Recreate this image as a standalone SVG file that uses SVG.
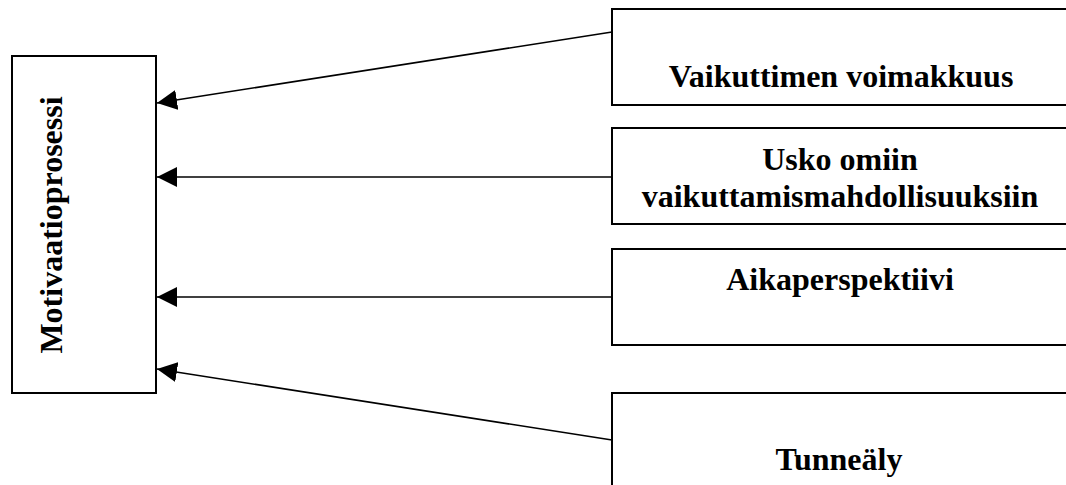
<svg xmlns="http://www.w3.org/2000/svg" width="1066" height="485" viewBox="0 0 1066 485">
  <style>
    .box { fill: #ffffff; stroke: #000000; stroke-width: 2; }
    .lbl { font-family: "Liberation Serif", "Times New Roman", serif; font-weight: bold; font-size: 32px; fill: #000000; text-anchor: middle; }
    .conn { stroke: #000000; stroke-width: 1.6; fill: none; marker-end: url(#arrow); }
  </style>
  <defs>
    <marker id="arrow" markerUnits="userSpaceOnUse" markerWidth="20" markerHeight="20" refX="20" refY="10" orient="auto">
      <path d="M0,0 L20,10 L0,20 z" fill="#000000"/>
    </marker>
  </defs>
  <rect width="1066" height="485" fill="#ffffff"/>
  <g id="motivaatioprosessi">
    <rect class="box" x="12" y="56" width="144" height="337"/>
    <text class="lbl" transform="translate(62,225) rotate(-90)" x="0" y="0">Motivaatioprosessi</text>
  </g>
  <g id="vaikuttimen">
    <rect class="box" x="612" y="9" width="460" height="96"/>
    <text class="lbl" x="841" y="87">Vaikuttimen voimakkuus</text>
  </g>
  <g id="usko">
    <rect class="box" x="612" y="128" width="460" height="96"/>
    <text class="lbl" x="840" y="170">Usko omiin</text>
    <text class="lbl" x="840" y="207">vaikuttamismahdollisuuksiin</text>
  </g>
  <g id="aikaperspektiivi">
    <rect class="box" x="612" y="249" width="460" height="96"/>
    <text class="lbl" x="840" y="290">Aikaperspektiivi</text>
  </g>
  <g id="tunnealy">
    <rect class="box" x="612" y="393" width="460" height="100"/>
    <text class="lbl" x="839" y="470">Tunneäly</text>
  </g>
  <g id="connectors">
    <line class="conn" x1="612" y1="32" x2="157" y2="103"/>
    <line class="conn" x1="612" y1="177" x2="157" y2="177"/>
    <line class="conn" x1="612" y1="297" x2="157" y2="297"/>
    <line class="conn" x1="612" y1="440" x2="157" y2="369"/>
  </g>
</svg>
